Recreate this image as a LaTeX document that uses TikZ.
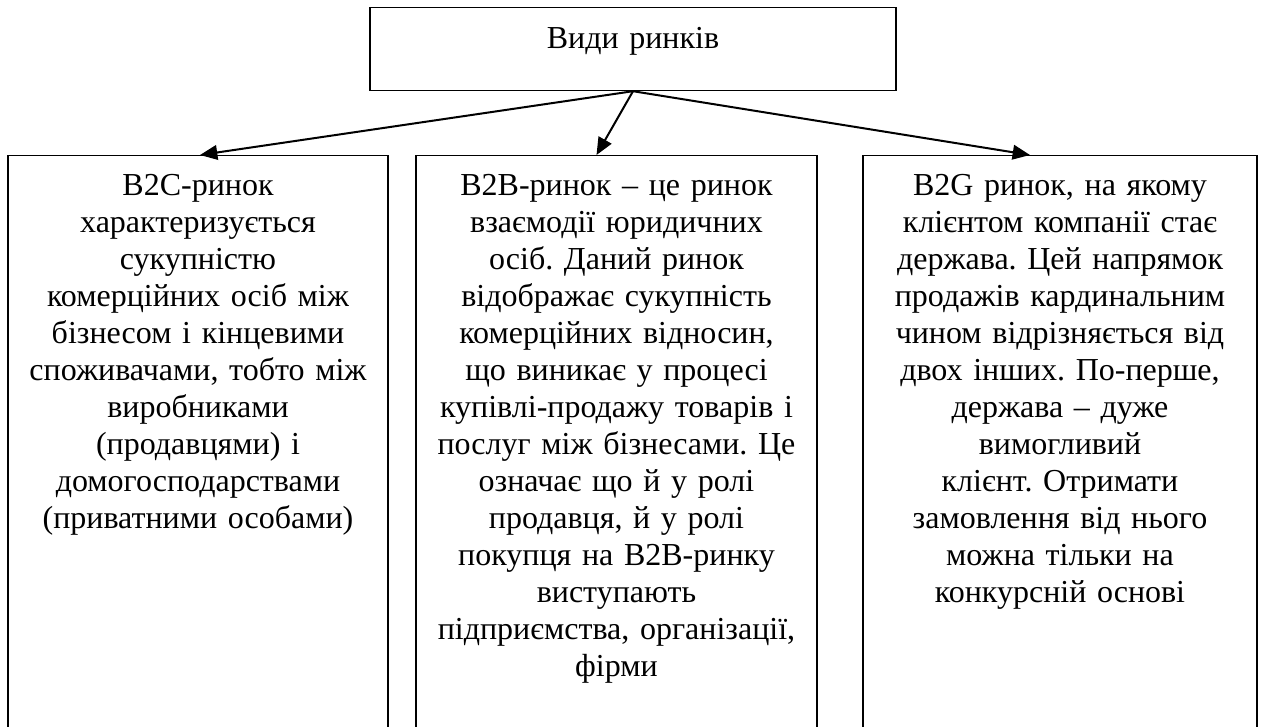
\documentclass[tikz,border=0pt]{standalone}
\usepackage{fontspec}
\setmainfont{Liberation Serif}
\usetikzlibrary{arrows.meta,calc}
\frenchspacing

\begin{document}
\begin{tikzpicture}[x=0.75pt,y=-0.75pt,
	box/.style={draw=black, line width=0.9pt, rectangle, align=center, inner xsep=3pt, inner ysep=0pt, anchor=north, font=\fontsize{24}{27.75}\selectfont},
	link/.style={line width=1.5pt, -{Triangle[length=13pt,width=11pt]}}]

	\def\boxtop{155}		% top edge of the three lower boxes
	\def\firstline{30pt}	% from the top edge down to the first baseline
	\def\boxdepth{450pt}	% the lower boxes run on below the page
	
	\path[use as bounding box, clip] (0,0) rectangle (1261,726);
	
	\node[box, text width=388.5pt, text height=30.75pt, text depth=31.5pt] (top) at (633,7) {Види ринків};
	
	\node[box, text width=279pt, text height=\firstline, text depth=\boxdepth] (b2c) at (198,\boxtop) {B2C-ринок\\ характеризується\\ сукупністю\\ комерційних осіб між\\ бізнесом і кінцевими\\ споживачами, тобто між\\ виробниками\\ (продавцями) і\\ домогосподарствами\\ (приватними особами)};
	\node[box, text width=294.75pt, text height=\firstline, text depth=\boxdepth] (b2b) at (616.5,\boxtop) {B2B-ринок – це ринок\\ взаємодії юридичних\\ осіб. Даний ринок\\ відображає сукупність\\ комерційних відносин,\\ що виникає у процесі\\ купівлі-продажу товарів і\\ послуг між бізнесами. Це\\ означає що й у ролі\\ продавця, й у ролі\\ покупця на B2B-ринку\\ виступають\\ підприємства, організації,\\ фірми};
	\node[box, text width=289.5pt, text height=\firstline, text depth=\boxdepth] (b2g) at (1060,\boxtop) {B2G ринок, на якому\\ клієнтом компанії стає\\ держава. Цей напрямок\\ продажів кардинальним\\ чином відрізняється від\\ двох інших. По-перше,\\ держава – дуже\\ вимогливий\\ клієнт. Отримати\\ замовлення від нього\\ можна тільки на\\ конкурсній основі};
	
	\foreach \b/\dx in {b2c/2, b2b/-20, b2g/-30}{% draw the arrows
		\draw[link] (top.south) -- ($(\b.north)+(\dx,0)$);
	}
	
\end{tikzpicture}
\end{document}
